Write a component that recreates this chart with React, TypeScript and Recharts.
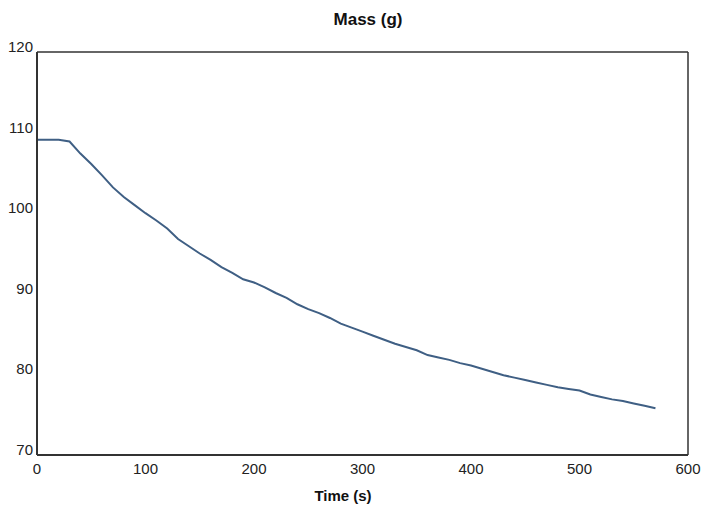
import React from "react";
import { LineChart, Line, XAxis, YAxis, ReferenceLine } from "recharts";

// Time (s)
const times = [
  0, 10, 20, 30, 40, 50, 60, 70, 80, 90, 100, 110, 120, 130, 140, 150, 160, 170,
  180, 190, 200, 210, 220, 230, 240, 250, 260, 270, 280, 290, 300, 310, 320, 330,
  340, 350, 360, 370, 380, 390, 400, 410, 420, 430, 440, 450, 460, 470, 480, 490,
  500, 510, 520, 530, 540, 550, 560, 570,
];

// Mass (g)
const mass = [
  109.1, 109.1, 109.1, 108.9, 107.4, 106.1, 104.7, 103.2, 102.0, 101.0, 100.0,
  99.1, 98.1, 96.8, 95.9, 95.0, 94.2, 93.3, 92.6, 91.8, 91.4, 90.8, 90.1, 89.5,
  88.7, 88.1, 87.6, 87.0, 86.3, 85.8, 85.3, 84.8, 84.3, 83.8, 83.4, 83.0, 82.4,
  82.1, 81.8, 81.4, 81.1, 80.7, 80.3, 79.9, 79.6, 79.3, 79.0, 78.7, 78.4, 78.2,
  78.0, 77.5, 77.2, 76.9, 76.7, 76.4, 76.1, 75.8,
];

const xTicks = [0, 100, 200, 300, 400, 500, 600];
const yTicks = [70, 80, 90, 100, 110, 120];

const data = times.map((t, i) => ({ t, m: mass[i] }));

const FONT = "'Liberation Sans', Arial, sans-serif";

function YTick(props: any) {
  const { x, y, payload } = props;
  return (
    <text
      x={x + 4}
      y={y - 4}
      textAnchor="end"
      dominantBaseline="middle"
      fontSize={15}
      fontFamily={FONT}
      fill="#222"
    >
      {payload.value}
    </text>
  );
}

export default function App() {
  return (
    <div
      style={{
        position: "absolute",
        left: 0,
        top: 0,
        width: 706,
        height: 509,
        background: "#fff",
        fontFamily: FONT,
      }}
    >
      <div
        style={{
          position: "absolute",
          left: 0,
          width: 736,
          top: 10,
          textAlign: "center",
          fontWeight: "bold",
          fontSize: 17,
          color: "#111",
        }}
      >
        Mass (g)
      </div>
      <div
        style={{
          position: "absolute",
          left: 0,
          width: 686,
          top: 487,
          textAlign: "center",
          fontWeight: "bold",
          fontSize: 15,
          color: "#111",
        }}
      >
        Time (s)
      </div>
      <LineChart
        width={706}
        height={509}
        data={data}
        margin={{ top: 52, right: 18, left: 0, bottom: 24 }}
      >
        <XAxis
          dataKey="t"
          type="number"
          domain={[0, 600]}
          ticks={xTicks}
          tickLine={false}
          axisLine={{ stroke: "#333", strokeWidth: 2 }}
          tick={{ fontSize: 15, fill: "#222", fontFamily: FONT }}
          height={30}
          interval={0}
        />
        <YAxis
          type="number"
          domain={[70, 120]}
          ticks={yTicks}
          tickLine={false}
          axisLine={{ stroke: "#333", strokeWidth: 2 }}
          tick={<YTick />}
          width={37}
          interval={0}
        />
        <ReferenceLine y={120} stroke="#333" strokeWidth={1.5} />
        <ReferenceLine x={600} stroke="#333" strokeWidth={1.5} />
        <Line
          type="linear"
          dataKey="m"
          stroke="#3f5f84"
          strokeWidth={2}
          dot={false}
          isAnimationActive={false}
        />
      </LineChart>
    </div>
  );
}
